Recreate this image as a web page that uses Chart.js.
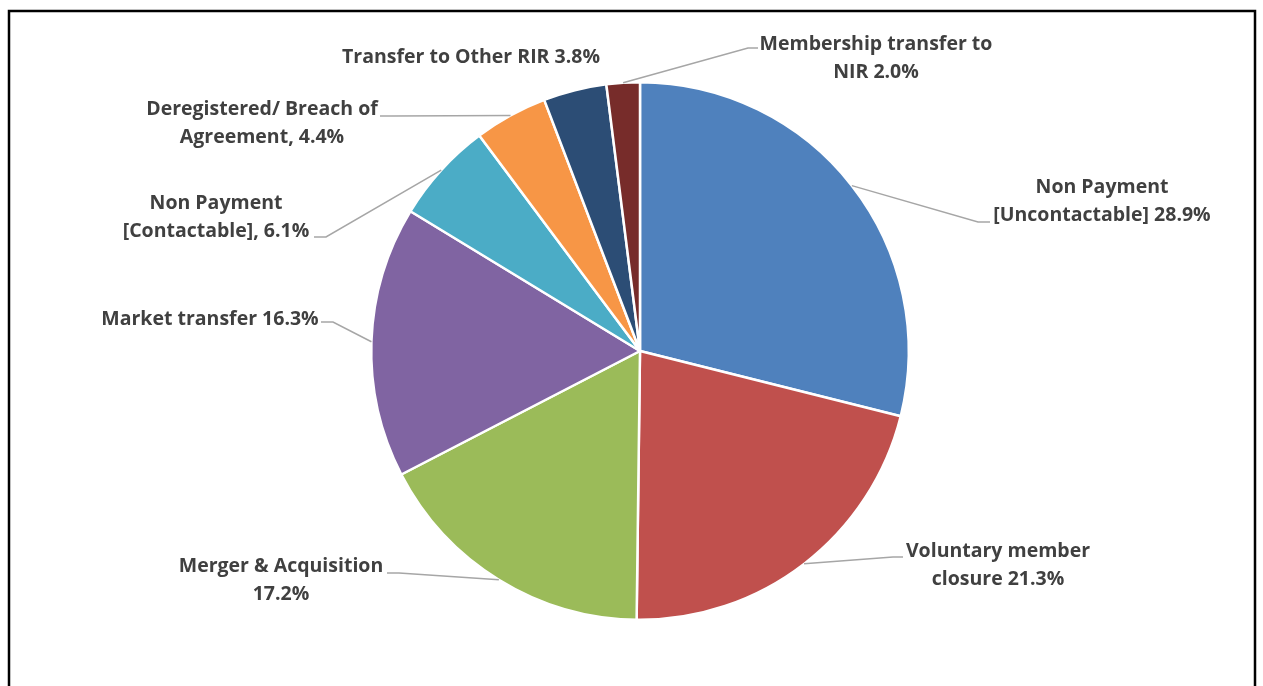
<!DOCTYPE html>
<html>
<head>
<meta charset="utf-8">
<script src="https://cdn.jsdelivr.net/npm/chart.js@4.4.1/dist/chart.umd.min.js"></script>
<style>
  html, body { margin: 0; padding: 0; background: #fff; }
  #wrap { position: relative; width: 1263px; height: 686px; }
</style>
</head>
<body>
<div id="wrap"><canvas id="c" width="1263" height="686"></canvas></div>
<script>
// Reasons for membership closure (share of closures, %)
const categories = [
  'Non Payment [Uncontactable]',
  'Voluntary member closure',
  'Merger & Acquisition',
  'Market transfer',
  'Non Payment [Contactable]',
  'Deregistered/ Breach of Agreement',
  'Transfer to Other RIR',
  'Membership transfer to NIR'
];
const shares = [28.9, 21.3, 17.2, 16.3, 6.1, 4.4, 3.8, 2.0];
const sliceColors = ['#4F81BD', '#C0504D', '#9BBB59', '#8064A2', '#4BACC6', '#F79646', '#2C4D75', '#772C2A'];
// how each data label is written: separator before the value, and words kept on the first line
const valueSeparators = [' ', ' ', ' ', ' ', ', ', ', ', ' ', ' '];
const firstLineWords = [2, 2, 3, 99, 2, 3, 99, 3];

// label placement: first-line centre, and leader elbow / end points (null = no leader)
const labelLayout = [
  { x: 1102, y: 187, elbow: [978, 222], end: [990, 222] },
  { x: 998,  y: 551, elbow: [893, 557], end: [903, 557] },
  { x: 281,  y: 566, elbow: [399, 573], end: [387, 573] },
  { x: 210,  y: 319, elbow: [333, 322], end: [321, 322] },
  { x: 216,  y: 203, elbow: [326, 237], end: [314, 237] },
  { x: 262,  y: 109, elbow: [392, 116], end: [380, 116] },
  { x: 471,  y: 57,  elbow: null, end: null },
  { x: 876,  y: 44,  elbow: [748, 48], end: [758, 48] }
];

function labelLines(i) {
  const text = categories[i] + valueSeparators[i] + shares[i].toFixed(1) + '%';
  const words = text.split(' ');
  const n = firstLineWords[i];
  if (n >= words.length) return [text];
  return [words.slice(0, n).join(' '), words.slice(n).join(' ')];
}

const frameAndLabels = {
  id: 'frameAndLabels',
  beforeDraw(chart) {
    const ctx = chart.ctx;
    ctx.save();
    ctx.fillStyle = '#fff';
    ctx.fillRect(0, 0, chart.width, chart.height);
    ctx.strokeStyle = '#000';
    ctx.lineWidth = 2.5;
    ctx.strokeRect(9, 11, 1246, 700);
    ctx.restore();
  },
  afterDatasetsDraw(chart) {
    const ctx = chart.ctx;
    const meta = chart.getDatasetMeta(0);
    ctx.save();
    meta.data.forEach((arc, i) => {
      const lay = labelLayout[i];
      const p = arc.getProps(['x', 'y', 'startAngle', 'endAngle', 'outerRadius'], true);
      const mid = (p.startAngle + p.endAngle) / 2;
      if (lay.elbow) {
        const ex = p.x + Math.cos(mid) * p.outerRadius;
        const ey = p.y + Math.sin(mid) * p.outerRadius;
        ctx.beginPath();
        ctx.strokeStyle = '#A6A6A6';
        ctx.lineWidth = 1.5;
        ctx.moveTo(ex, ey);
        ctx.lineTo(lay.elbow[0], lay.elbow[1]);
        ctx.lineTo(lay.end[0], lay.end[1]);
        ctx.stroke();
      }
      ctx.fillStyle = '#404040';
      ctx.font = 'bold 19.5px "Open Sans"';
      ctx.textAlign = 'center';
      ctx.textBaseline = 'middle';
      labelLines(i).forEach((line, k) => {
        ctx.fillText(line, lay.x, lay.y + k * 28.5);
      });
    });
    ctx.restore();
  }
};

new Chart(document.getElementById('c'), {
  type: 'pie',
  data: {
    labels: categories,
    datasets: [{
      data: shares,
      backgroundColor: sliceColors,
      borderColor: '#ffffff',
      borderWidth: 2.5
    }]
  },
  options: {
    responsive: false,
    animation: false,
    layout: { padding: { left: 100, right: 83, top: 81, bottom: 65 } },
    plugins: {
      legend: { display: false },
      tooltip: { enabled: false }
    }
  },
  plugins: [frameAndLabels]
});
</script>
</body>
</html>
